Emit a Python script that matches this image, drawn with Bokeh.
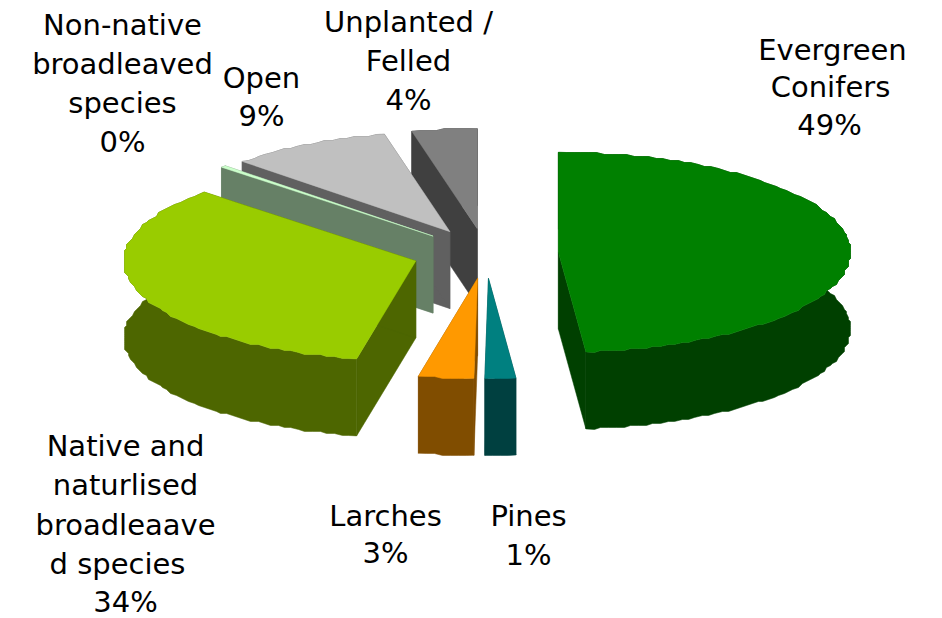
import numpy as np
from bokeh.embed import file_html
from bokeh.resources import INLINE
from bokeh.plotting import figure
from bokeh.models import ColumnDataSource
from bokeh.core.properties import value

# ---- data ----
categories = ["Evergreen Conifers", "Pines", "Larches",
              "Native and naturlised broadleaaved species",
              "Non-native broadleaved species", "Open", "Unplanted / Felled"]
shares = [48.5, 1.7, 3.05, 33.85, 0.3, 9.0, 3.6]
top_colors = ["#008000", "#008080", "#FF9900", "#99CC00", "#CCFFCC", "#C0C0C0", "#808080"]
side_colors = ["#004000", "#004040", "#804D00", "#4D6600", "#668066", "#606060", "#404040"]
label_lines = ["Evergreen", "Conifers", "49%", "Pines", "1%", "Larches", "3%",
               "Native and", "naturlised", "broadleaave", "d species", "34%",
               "Non-native", "broadleaved", "species", "0%",
               "Open", "9%", "Unplanted /", "Felled", "4%"]
label_x = [832, 830, 829, 528, 528, 385, 385,
           125, 125, 125, 117, 125,
           122, 122, 122, 122,
           261, 261, 408, 408, 408]
label_y = [49, 86, 124, 515, 554, 515, 552,
           445, 484, 524, 563, 601,
           24, 63, 102, 141,
           77, 115, 21, 60, 99]

# ---- projection of the exploded pie (layout) ----
CX, CY, RX, RY, DEPTH, EXPLODE = 485, 253, 292, 100, 77, 0.25
STEP = 1.5
SNAP = 2


def rim(a0, a1, ax, ay):
    n = max(2, int((a1 - a0) / STEP) + 1)
    t = np.radians(np.linspace(a0, a1, n))
    x = ax + RX * np.sin(t)
    y = ay - RY * np.cos(t)
    # coarse rim, as in the stepped edge of the original rendering
    x[1:-1] = np.round(x[1:-1] / SNAP) * SNAP
    y[1:-1] = np.round(y[1:-1] / SNAP) * SNAP
    return x, y


total = sum(shares)
edges = np.cumsum([0] + shares) / total * 360
xs, ys, fills = [], [], []
for i in [6, 5, 4, 0, 3, 2, 1]:
    a0, a1 = edges[i], edges[i + 1]
    mid = np.radians((a0 + a1) / 2)
    ax = CX + EXPLODE * RX * np.sin(mid)
    ay = CY - EXPLODE * RY * np.cos(mid)
    rx_, ry_ = rim(a0, a1, ax, ay)
    # extruded body: radial faces and outer wall in the side colour
    for px, py in [
        ([ax, rx_[0], rx_[0], ax], [ay, ry_[0], ry_[0] + DEPTH, ay + DEPTH]),
        ([ax, rx_[-1], rx_[-1], ax], [ay, ry_[-1], ry_[-1] + DEPTH, ay + DEPTH]),
        (list(rx_) + list(rx_[::-1]), list(ry_) + list(ry_[::-1] + DEPTH)),
    ]:
        xs.append(list(px)); ys.append(list(py)); fills.append(side_colors[i])
    # top face
    xs.append([ax] + list(rx_)); ys.append([ay] + list(ry_)); fills.append(top_colors[i])

p = figure(width=942, height=618, output_backend="svg", toolbar_location=None,
           x_range=(0, 942), y_range=(618, 0), min_border=0, outline_line_color=None)
p.axis.visible = False
p.grid.visible = False
p.background_fill_color = "white"
p.patches(xs="xs", ys="ys", fill_color="fc", line_color="fc", line_width=0.5,
          source=ColumnDataSource(dict(xs=xs, ys=ys, fc=fills)))
p.text(x="x", y="y", text="t", text_align="center", text_baseline="middle",
       text_font=value("DejaVu Sans"), text_font_size="29px", text_color="#000000",
       source=ColumnDataSource(dict(x=label_x, y=label_y, t=label_lines)))

open("out.html", "w").write(file_html(p, INLINE))
